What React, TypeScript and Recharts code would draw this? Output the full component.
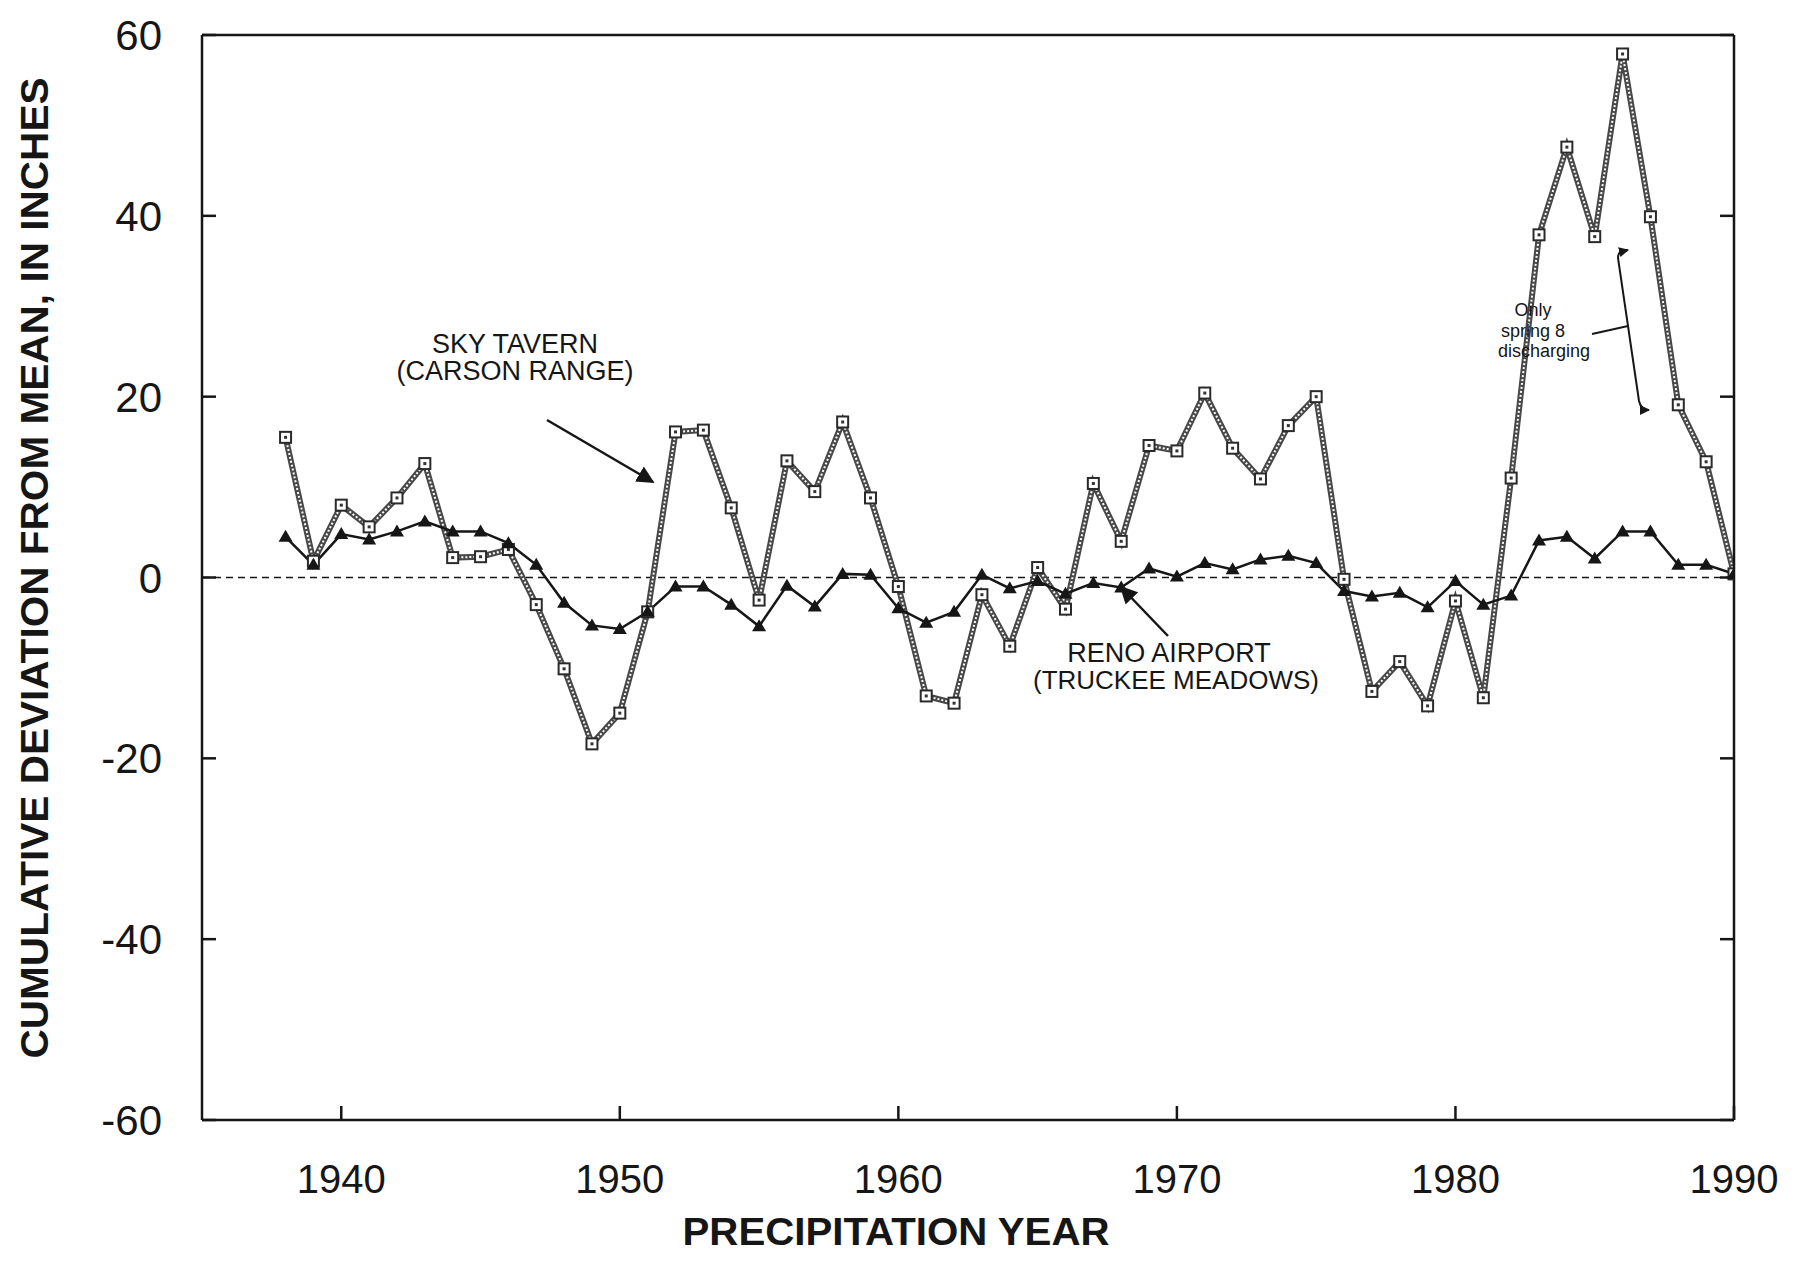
import React from "react"
import { LineChart, Line, XAxis, YAxis, ReferenceLine } from "recharts"

const years = [
    1938, 1939, 1940, 1941, 1942, 1943, 1944, 1945, 1946, 1947,
    1948, 1949, 1950, 1951, 1952, 1953, 1954, 1955, 1956, 1957,
    1958, 1959, 1960, 1961, 1962, 1963, 1964, 1965, 1966, 1967,
    1968, 1969, 1970, 1971, 1972, 1973, 1974, 1975, 1976, 1977,
    1978, 1979, 1980, 1981, 1982, 1983, 1984, 1985, 1986, 1987,
    1988, 1989, 1990,
]

// Sky Tavern (Carson Range), cumulative deviation in inches
const skyTavern = [
    15.5, 1.8, 8.0, 5.6, 8.8, 12.6, 2.2, 2.3, 3.1, -3.0,
    -10.1, -18.4, -15.0, -3.8, 16.1, 16.3, 7.7, -2.5, 12.9, 9.5,
    17.2, 8.8, -1.0, -13.1, -13.9, -1.9, -7.6, 1.1, -3.5, 10.4,
    4.0, 14.6, 14.0, 20.4, 14.3, 10.9, 16.8, 20.0, -0.2, -12.6,
    -9.3, -14.2, -2.6, -13.3, 11.0, 37.9, 47.6, 37.7, 57.9, 39.9,
    19.1, 12.8, 0.4,
]

// Reno Airport (Truckee Meadows)
const renoAirport = [
    4.5, 1.4, 4.8, 4.2, 5.1, 6.2, 5.1, 5.1, 3.8, 1.4,
    -2.8, -5.3, -5.7, -3.8, -1.0, -1.0, -3.0, -5.4, -0.9, -3.2,
    0.4, 0.3, -3.4, -5.0, -3.8, 0.3, -1.2, -0.4, -1.8, -0.6,
    -1.1, 1.0, 0.1, 1.6, 0.9, 2.0, 2.4, 1.6, -1.5, -2.1,
    -1.7, -3.3, -0.4, -3.0, -2.0, 4.1, 4.5, 2.1, 5.1, 5.1,
    1.4, 1.4, 0.4,
]

const yearTicks = [1940, 1950, 1960, 1970, 1980, 1990]
const deviationTicks = [-60, -40, -20, 0, 20, 40, 60]

const data = years.map((year, i) => ({ year, sky: skyTavern[i], reno: renoAirport[i] }))

const font = "'Liberation Sans', Arial, sans-serif"
const ink = "#161616"
const TICK = 14

// ticks point into the plot on all four sides
function BottomTick({ x, y, payload }: any) {
    return (
        <g>
            <line x1={x} y1={y} x2={x} y2={y - TICK} stroke={ink} strokeWidth={2.5} />
            <text x={x} y={y + 73} textAnchor="middle" fontSize={40} fontFamily={font} fill={ink}>
                {payload.value}
            </text>
        </g>
    )
}

function LeftTick({ x, y, payload }: any) {
    return (
        <g>
            <line x1={x} y1={y} x2={x + TICK} y2={y} stroke={ink} strokeWidth={2.5} />
            <text x={x - 40} y={y + 15} textAnchor="end" fontSize={42} fontFamily={font} fill={ink}>
                {payload.value}
            </text>
        </g>
    )
}

function TopTick({ x, y }: any) {
    return <line x1={x} y1={y} x2={x} y2={y + TICK} stroke={ink} strokeWidth={2.5} />
}

function RightTick({ x, y }: any) {
    return <line x1={x} y1={y} x2={x - TICK} y2={y} stroke={ink} strokeWidth={2.5} />
}

function SquareDot(props: any) {
    const { cx, cy } = props
    if (cx == null || cy == null) return null
    return (
        <g>
            <rect x={cx - 5.5} y={cy - 5.5} width={11} height={11} fill="#fff" stroke="#2a2a2a" strokeWidth={2} />
            <rect x={cx - 1.5} y={cy - 1.5} width={3} height={3} fill="#333" />
        </g>
    )
}

function TriangleDot(props: any) {
    const { cx, cy } = props
    if (cx == null || cy == null) return null
    return <path d={`M${cx},${cy - 7} L${cx + 7},${cy + 5} L${cx - 7},${cy + 5} Z`} fill={ink} />
}

function Annotations() {
    return (
        <svg
            width={1794}
            height={1279}
            style={{ position: "absolute", left: 0, top: 0, pointerEvents: "none" }}
            fontFamily={font}
            fill={ink}
        >
            <defs>
                <marker id="head" viewBox="0 0 10 10" refX="9" refY="5" markerWidth="7" markerHeight="7" orient="auto">
                    <path d="M0,0 L10,5 L0,10 Z" fill={ink} />
                </marker>
                <marker id="smallHead" viewBox="0 0 10 10" refX="9" refY="5" markerWidth="5" markerHeight="5" orient="auto">
                    <path d="M0,0 L10,5 L0,10 Z" fill={ink} />
                </marker>
            </defs>

            <text
                transform="translate(48,568) rotate(-90)"
                textAnchor="middle"
                fontSize={38}
                fontWeight="bold"
                textLength={981}
                lengthAdjust="spacingAndGlyphs"
            >
                CUMULATIVE DEVIATION FROM MEAN, IN INCHES
            </text>
            <text x={896} y={1245} textAnchor="middle" fontSize={39} fontWeight="bold" textLength={427} lengthAdjust="spacingAndGlyphs">
                PRECIPITATION YEAR
            </text>

            <text x={515} y={353} textAnchor="middle" fontSize={27}>SKY  TAVERN</text>
            <text x={515} y={380} textAnchor="middle" fontSize={27}>(CARSON  RANGE)</text>
            <line x1={547} y1={420} x2={653} y2={482} stroke={ink} strokeWidth={2.5} markerEnd="url(#head)" />

            <text x={1169} y={662} textAnchor="middle" fontSize={27}>RENO  AIRPORT</text>
            <text x={1176} y={689} textAnchor="middle" fontSize={26}>(TRUCKEE  MEADOWS)</text>
            <line x1={1168} y1={636} x2={1121} y2={587} stroke={ink} strokeWidth={2.5} markerEnd="url(#head)" />

            <text x={1533} y={316} textAnchor="middle" fontSize={18}>Only</text>
            <text x={1533} y={337} textAnchor="middle" fontSize={18}>spring  8</text>
            <text x={1544} y={357} textAnchor="middle" fontSize={18}>discharging</text>
            <line x1={1592} y1={334} x2={1628} y2={326} stroke={ink} strokeWidth={2} />
            <path
                d="M1627,250 Q1618,250 1618,258 L1639,401 Q1641,410 1649,410"
                fill="none"
                stroke={ink}
                strokeWidth={2}
                markerEnd="url(#smallHead)"
            />
            <path d="M1620,252 L1628,250" fill="none" stroke={ink} strokeWidth={2} markerEnd="url(#smallHead)" />
        </svg>
    )
}

export default function App() {
    return (
        <div style={{ position: "relative", width: 1794, height: 1279, background: "#fff" }}>
            <style>{`body{margin:0}`}</style>
            <LineChart width={1794} height={1279} data={data} margin={{ top: 34, right: 59, bottom: 0, left: 2 }}>
                <XAxis
                    dataKey="year"
                    type="number"
                    domain={[1935, 1990]}
                    ticks={yearTicks}
                    interval={0}
                    height={159}
                    tickSize={0}
                    tickMargin={0}
                    tickLine={false}
                    stroke={ink}
                    strokeWidth={2.5}
                    tick={<BottomTick />}
                    allowDataOverflow
                />
                <XAxis
                    xAxisId="top"
                    orientation="top"
                    type="number"
                    domain={[1935, 1990]}
                    ticks={yearTicks}
                    interval={0}
                    height={1}
                    tickSize={0}
                    tickMargin={0}
                    tickLine={false}
                    stroke={ink}
                    strokeWidth={2.5}
                    tick={<TopTick />}
                    allowDataOverflow
                />
                <YAxis
                    type="number"
                    domain={[-60, 60]}
                    ticks={deviationTicks}
                    interval={0}
                    width={200}
                    tickSize={0}
                    tickMargin={0}
                    tickLine={false}
                    stroke={ink}
                    strokeWidth={2.5}
                    tick={<LeftTick />}
                    allowDataOverflow
                />
                <YAxis
                    yAxisId="right"
                    orientation="right"
                    type="number"
                    domain={[-60, 60]}
                    ticks={deviationTicks}
                    interval={0}
                    width={1}
                    tickSize={0}
                    tickMargin={0}
                    tickLine={false}
                    stroke={ink}
                    strokeWidth={2.5}
                    tick={<RightTick />}
                    allowDataOverflow
                />
                <ReferenceLine y={0} stroke={ink} strokeWidth={1.5} strokeDasharray="7 5" />
                <Line dataKey="sky" stroke="#484848" strokeWidth={6} dot={false} isAnimationActive={false} />
                <Line
                    dataKey="sky"
                    stroke="#ffffff"
                    strokeWidth={2}
                    strokeDasharray="2 2"
                    dot={<SquareDot />}
                    isAnimationActive={false}
                />
                <Line dataKey="reno" stroke={ink} strokeWidth={2.5} dot={<TriangleDot />} isAnimationActive={false} />
            </LineChart>
            <Annotations />
        </div>
    )
}
